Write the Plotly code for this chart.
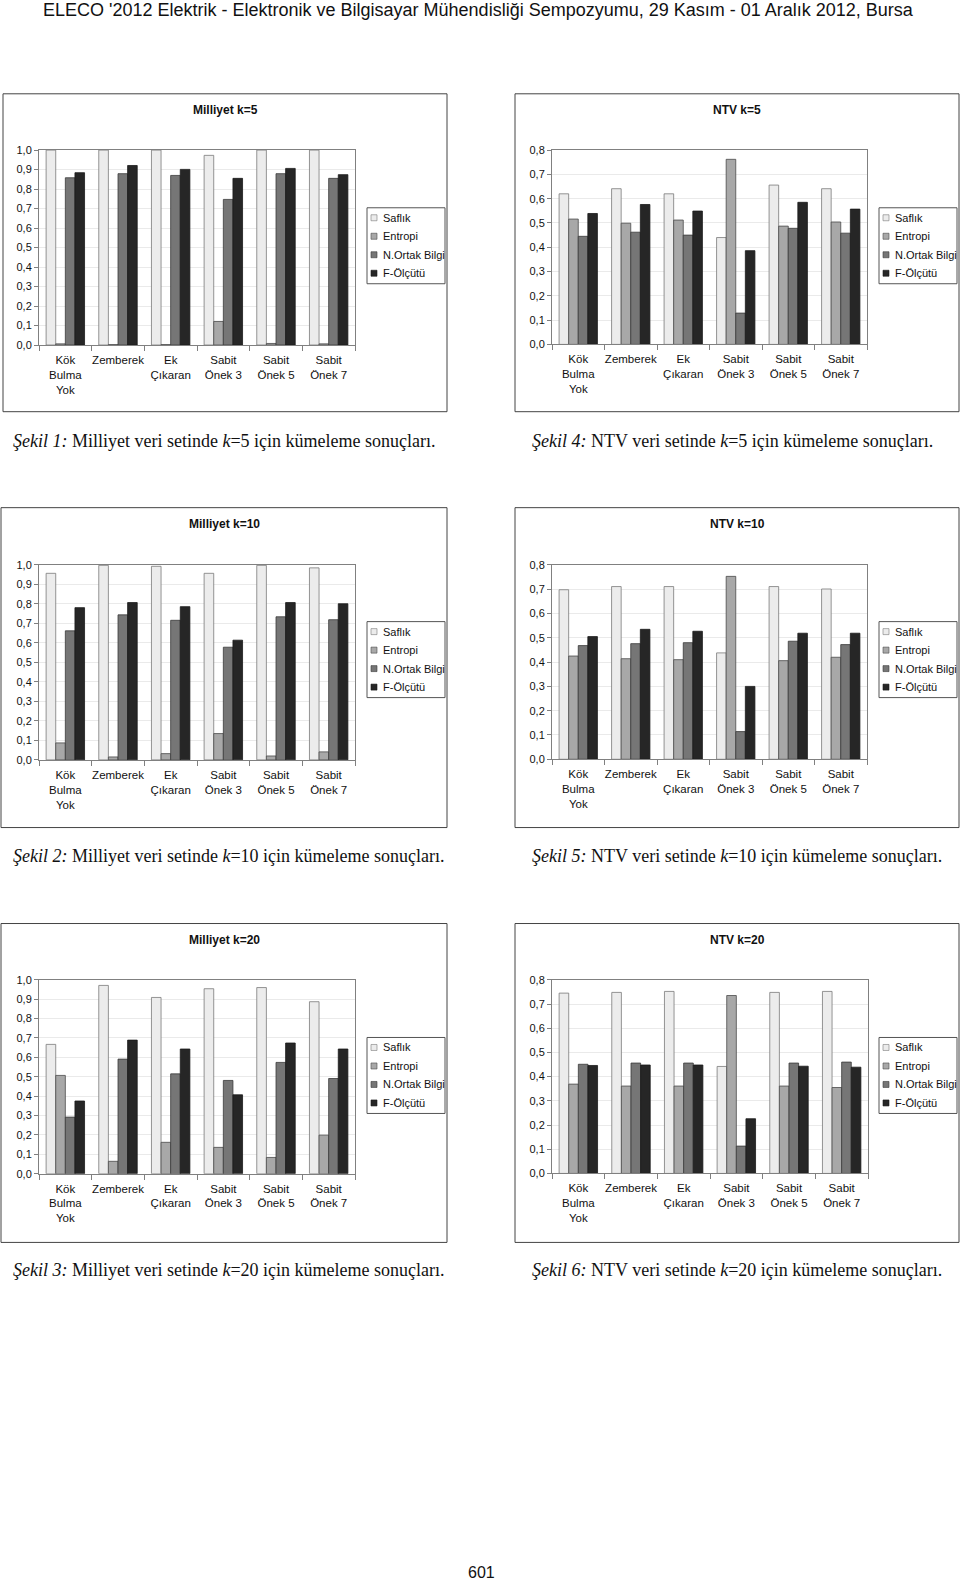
import plotly.graph_objects as go

W, H = 960, 1581

categories = ["Kök<br>Bulma<br>Yok", "Zemberek", "Ek<br>Çıkaran", "Sabit<br>Önek 3", "Sabit<br>Önek 5", "Sabit<br>Önek 7"]
series_names = ["Saflık", "Entropi", "N.Ortak Bilgi", "F-Ölçütü"]
y_ticks_10 = [0.0, 0.1, 0.2, 0.3, 0.4, 0.5, 0.6, 0.7, 0.8, 0.9, 1.0]
y_ticks_08 = [0.0, 0.1, 0.2, 0.3, 0.4, 0.5, 0.6, 0.7, 0.8]

mil_k5_saflik = [1.0, 1.0, 1.0, 0.973, 1.0, 1.0]
mil_k5_entropi = [0.006, 0.002, 0.002, 0.121, 0.008, 0.006]
mil_k5_nob = [0.858, 0.879, 0.870, 0.747, 0.879, 0.855]
mil_k5_f = [0.884, 0.921, 0.901, 0.855, 0.906, 0.874]

ntv_k5_saflik = [0.620, 0.641, 0.620, 0.440, 0.656, 0.641]
ntv_k5_entropi = [0.516, 0.499, 0.512, 0.762, 0.487, 0.504]
ntv_k5_nob = [0.445, 0.462, 0.450, 0.129, 0.478, 0.458]
ntv_k5_f = [0.539, 0.576, 0.549, 0.386, 0.585, 0.557]

mil_k10_saflik = [0.957, 0.998, 0.993, 0.957, 0.998, 0.985]
mil_k10_entropi = [0.087, 0.015, 0.032, 0.135, 0.020, 0.041]
mil_k10_nob = [0.662, 0.744, 0.716, 0.578, 0.734, 0.719]
mil_k10_f = [0.781, 0.807, 0.786, 0.614, 0.807, 0.801]

ntv_k10_saflik = [0.698, 0.711, 0.711, 0.438, 0.711, 0.701]
ntv_k10_entropi = [0.425, 0.414, 0.410, 0.753, 0.406, 0.420]
ntv_k10_nob = [0.468, 0.476, 0.480, 0.114, 0.486, 0.472]
ntv_k10_f = [0.505, 0.535, 0.527, 0.300, 0.519, 0.519]

mil_k20_saflik = [0.667, 0.971, 0.909, 0.954, 0.960, 0.887]
mil_k20_entropi = [0.507, 0.064, 0.162, 0.136, 0.084, 0.199]
mil_k20_nob = [0.292, 0.591, 0.515, 0.481, 0.574, 0.491]
mil_k20_f = [0.375, 0.689, 0.643, 0.407, 0.674, 0.643]

ntv_k20_saflik = [0.745, 0.748, 0.752, 0.442, 0.748, 0.752]
ntv_k20_entropi = [0.369, 0.361, 0.361, 0.735, 0.361, 0.355]
ntv_k20_nob = [0.451, 0.456, 0.456, 0.113, 0.456, 0.460]
ntv_k20_f = [0.446, 0.448, 0.448, 0.226, 0.443, 0.439]

header_text = "ELECO '2012 Elektrik - Elektronik ve Bilgisayar Mühendisliği Sempozyumu, 29 Kasım - 01 Aralık 2012, Bursa"
page_number = "601"

colors = ["#ECECEC", "#A8A8A8", "#767676", "#262626"]
line_colors = ["#7A7A7A", "#4A4A4A", "#3A3A3A", "#1A1A1A"]


def px(x):
    return x / W


def py(y):
    # small vertical correction so that the rendered page lines up with the reference
    yy = 1.0073 * y - 5.2
    return 1 - yy / H


charts = [
    ("Milliyet k=5", "<i>Şekil 1:</i> Milliyet veri setinde <i>k</i>=5 için kümeleme sonuçları.",
     [mil_k5_saflik, mil_k5_entropi, mil_k5_nob, mil_k5_f], 1.0, y_ticks_10,
     (3, 93, 447, 411), (39, 149.3, 355, 344.3), (11, 440)),
    ("NTV k=5", "<i>Şekil 4:</i> NTV veri setinde <i>k</i>=5 için kümeleme sonuçları.",
     [ntv_k5_saflik, ntv_k5_entropi, ntv_k5_nob, ntv_k5_f], 0.8, y_ticks_08,
     (515, 93, 959, 411), (552, 149.3, 867, 343.7), (530, 440)),
    ("Milliyet k=10", "<i>Şekil 2:</i> Milliyet veri setinde <i>k</i>=10 için kümeleme sonuçları.",
     [mil_k10_saflik, mil_k10_entropi, mil_k10_nob, mil_k10_f], 1.0, y_ticks_10,
     (1, 507, 447, 827), (39, 564.3, 355, 759.3), (11, 855)),
    ("NTV k=10", "<i>Şekil 5:</i> NTV veri setinde <i>k</i>=10 için kümeleme sonuçları.",
     [ntv_k10_saflik, ntv_k10_entropi, ntv_k10_nob, ntv_k10_f], 0.8, y_ticks_08,
     (515, 507, 959, 827), (552, 564.3, 867, 758.7), (530, 855)),
    ("Milliyet k=20", "<i>Şekil 3:</i> Milliyet veri setinde <i>k</i>=20 için kümeleme sonuçları.",
     [mil_k20_saflik, mil_k20_entropi, mil_k20_nob, mil_k20_f], 1.0, y_ticks_10,
     (1, 923, 447, 1242), (39, 979.3, 355, 1173.3), (11, 1270)),
    ("NTV k=20", "<i>Şekil 6:</i> NTV veri setinde <i>k</i>=20 için kümeleme sonuçları.",
     [ntv_k20_saflik, ntv_k20_entropi, ntv_k20_nob, ntv_k20_f], 0.8, y_ticks_08,
     (515, 923, 959, 1242), (552, 979.3, 868, 1173), (530, 1270)),
]

fig = go.Figure()
shapes = []
annotations = []
layout_axes = {}

FONT = "Liberation Sans, Arial, sans-serif"
SERIF = "Liberation Serif, Times New Roman, serif"

for i, (title, caption, series, ymax, yticks, box, plot, cap_pos) in enumerate(charts):
    n = i + 1
    xa = "x" if n == 1 else f"x{n}"
    ya = "y" if n == 1 else f"y{n}"
    for s, (name, vals) in enumerate(zip(series_names, series)):
        fig.add_trace(go.Bar(
            x=categories, y=vals, name=name, xaxis=xa, yaxis=ya,
            marker=dict(color=colors[s], line=dict(color=line_colors[s], width=0.8)),
            showlegend=False,
        ))
    x0, y0, x1, y1 = plot
    xkey = "xaxis" if n == 1 else f"xaxis{n}"
    ykey = "yaxis" if n == 1 else f"yaxis{n}"
    layout_axes[xkey] = dict(
        domain=[px(x0), px(x1)], anchor=ya, type="category",
        showline=True, linecolor="#808080", linewidth=1, mirror=True,
        ticks="outside", tickson="boundaries", ticklen=5, tickcolor="#808080",
        tickangle=0, ticklabelstandoff=4,
        tickfont=dict(family=FONT, size=11.5, color="#111"),
        showgrid=False, zeroline=False, fixedrange=True,
    )
    layout_axes[ykey] = dict(
        domain=[py(y1), py(y0)], anchor=xa, range=[0, ymax],
        tickvals=yticks, tickformat=".1f",
        showline=True, linecolor="#808080", linewidth=1, mirror=True,
        ticks="outside", ticklen=4, tickcolor="#808080",
        tickfont=dict(family=FONT, size=11, color="#111"),
        showgrid=True, gridcolor="#EAEAEA", gridwidth=1, zeroline=False, fixedrange=True,
    )
    bx0, by0, bx1, by1 = box
    shapes.append(dict(type="rect", xref="paper", yref="paper",
                       x0=px(bx0), x1=px(bx1), y0=py(by1), y1=py(by0),
                       line=dict(color="#444", width=1), fillcolor="rgba(0,0,0,0)", layer="below"))
    annotations.append(dict(text=f"<b>{title}</b>", xref="paper", yref="paper",
                            x=px((bx0 + bx1) / 2), y=py(by0 + 16), xanchor="center", yanchor="middle",
                            showarrow=False, font=dict(family=FONT, size=12, color="#111")))
    annotations.append(dict(text=caption, xref="paper", yref="paper",
                            x=px(cap_pos[0]), y=py(cap_pos[1]), xanchor="left", yanchor="middle",
                            showarrow=False, font=dict(family=SERIF, size=18, color="#111")))
    lx1 = bx1 - 2
    lx0 = lx1 - 78
    ly0 = by0 + 114
    ly1 = ly0 + 76
    shapes.append(dict(type="rect", xref="paper", yref="paper",
                       x0=px(lx0), x1=px(lx1), y0=py(ly1), y1=py(ly0),
                       line=dict(color="#555", width=1), fillcolor="white"))
    for s, name in enumerate(series_names):
        cy = ly0 + 10 + s * 18.5
        shapes.append(dict(type="rect", xref="paper", yref="paper",
                           x0=px(lx0 + 4), x1=px(lx0 + 10), y0=py(cy + 3), y1=py(cy - 3),
                           line=dict(color=line_colors[s], width=0.6), fillcolor=colors[s]))
        annotations.append(dict(text=name, xref="paper", yref="paper",
                                x=px(lx0 + 13.5), y=py(cy), xanchor="left", yanchor="middle",
                                showarrow=False, font=dict(family=FONT, size=11, color="#111")))

annotations.append(dict(text=header_text, xref="paper", yref="paper", x=px(478), y=py(9.5),
                        xanchor="center", yanchor="middle", showarrow=False,
                        font=dict(family=FONT, size=18, color="#111")))
annotations.append(dict(text=page_number, xref="paper", yref="paper", x=px(481), y=py(1572),
                        xanchor="center", yanchor="middle", showarrow=False,
                        font=dict(family=FONT, size=16, color="#111")))

fig.update_layout(
    width=W, height=H, margin=dict(l=0, r=0, t=0, b=0),
    paper_bgcolor="white", plot_bgcolor="white",
    barmode="group", bargap=0.27, bargroupgap=0.0,
    separators=",.",
    shapes=shapes, annotations=annotations,
    **layout_axes,
)

fig.write_html(
    "out.html",
    config={"displayModeBar": False, "staticPlot": True},
    post_script=(
        "var d=document.documentElement, b=document.body;"
        "d.style.margin='0';d.style.padding='0';d.style.overflow='hidden';"
        "b.style.margin='0';b.style.padding='0';b.style.overflow='hidden';"
        "b.style.fontSize='0';b.style.lineHeight='0';"
        "window.scrollTo(0,0);"
    ),
)
